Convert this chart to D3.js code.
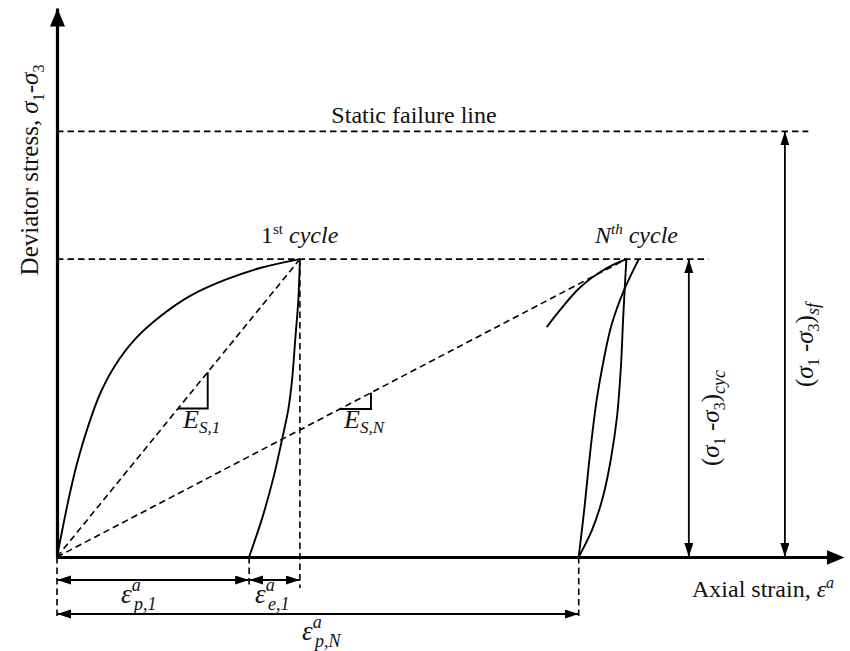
<!DOCTYPE html>
<html>
<head>
<meta charset="utf-8">
<script src="https://cdn.jsdelivr.net/npm/d3@7"></script>
<style>
  body { margin: 0; background: #fff; }
</style>
</head>
<body>
<div id="chart"></div>
<script>
// strain in arbitrary units, stress in % of the static failure stress
var load1Strain = [0, 0.08, 0.17, 0.27, 0.40, 0.55, 0.74, 1.00, 1.32, 1.70, 2.15, 2.60, 3.11];
var load1Stress = [0, 7.5, 15.4, 22.9, 30.8, 38.3, 44.9, 51.2, 56.5, 61.3, 65.1, 67.9, 70];

var unload1Strain = [3.11, 3.09, 3.05, 3.01, 2.96, 2.88, 2.78, 2.64, 2.46];
var unload1Stress = [70, 60.4, 51, 41.6, 34.5, 27.5, 19.3, 9.9, 0];

var loadNStrain = [6.27, 6.44, 6.70, 7.04, 7.29];
var loadNStress = [54, 58, 63.4, 67.9, 70];

var reloadNStrain = [6.68, 6.75, 6.83, 6.91, 7.00, 7.10, 7.26, 7.45];
var reloadNStress = [0, 11, 25.1, 36.9, 46.3, 54.5, 62.7, 70];

var unloadNStrain = [7.29, 7.25, 7.22, 7.17, 7.09, 6.99, 6.85, 6.68];
var unloadNStress = [70, 56.4, 44.6, 32.9, 22.8, 14.1, 6.3, 0];

var staticFailure = 100;   // (s1-s3)sf
var cyclicPeak = 70;       // (s1-s3)cyc
var peak1Strain = 3.11;    // end of 1st cycle
var plastic1Strain = 2.46; // eps p,1
var peakNStrain = 7.29;    // end of Nth cycle
var plasticNStrain = 6.68; // eps p,N
var staticLineEnd = 9.62;
var cyclicLineEnd = 8.34;
var cycArrowStrain = 8.09;
var sfArrowStrain = 9.32;
var slope1Tri = [1.55, 1.93];
var slopeNTri = [3.62, 4.02];

var W = 850, H = 651;
var SERIF = "'Liberation Serif', 'Times New Roman', Times, 'DejaVu Serif', serif";

var x = d3.scaleLinear().domain([0, 10]).range([57, 838]);
var y = d3.scaleLinear().domain([0, 129]).range([557, 8]);

var svg = d3.select("#chart").append("svg")
    .attr("width", W)
    .attr("height", H);

var defs = svg.append("defs");
function marker(id, len, half, ref) {
    defs.append("marker")
        .attr("id", id)
        .attr("markerUnits", "userSpaceOnUse")
        .attr("markerWidth", len + 1).attr("markerHeight", half * 2 + 1)
        .attr("refX", ref).attr("refY", half)
        .attr("orient", "auto-start-reverse")
        .append("path")
        .attr("d", "M0,0 L" + len + "," + half + " L0," + (half * 2) + " Z")
        .attr("fill", "#000");
}
marker("bigy", 18, 7.5, 18);
marker("bigx", 18, 7.5, 12);
marker("small", 14, 4.5, 14);

function zip(a, b) {
    return a.map(function (d, i) { return [d, b[i]]; });
}

var line = d3.line()
    .x(function (d) { return x(d[0]); })
    .y(function (d) { return y(d[1]); })
    .curve(d3.curveCatmullRom.alpha(0.5));

function dashed(x1, y1, x2, y2) {
    svg.append("line")
        .attr("x1", x1).attr("y1", y1).attr("x2", x2).attr("y2", y2)
        .attr("stroke", "#000")
        .attr("stroke-width", 1.6)
        .attr("stroke-dasharray", "6.5,4");
}

function arrow(x1, y1, x2, y2) {
    svg.append("line")
        .attr("x1", x1).attr("y1", y1).attr("x2", x2).attr("y2", y2)
        .attr("stroke", "#000")
        .attr("stroke-width", 1.8)
        .attr("marker-start", "url(#small)")
        .attr("marker-end", "url(#small)");
}

// dashed guide lines
dashed(x(0), y(staticFailure), x(staticLineEnd), y(staticFailure));
dashed(x(0), y(cyclicPeak), x(cyclicLineEnd), y(cyclicPeak));
dashed(x(0), y(0), x(peak1Strain), y(cyclicPeak));
dashed(x(0), y(0), x(peakNStrain), y(cyclicPeak));
dashed(x(peak1Strain), y(cyclicPeak), x(peak1Strain), y(0) + 31);
dashed(x(0), y(0), x(0), y(0) + 63);
dashed(x(plastic1Strain), y(0), x(plastic1Strain), y(0) + 31);
dashed(x(plasticNStrain), y(0), x(plasticNStrain), y(0) + 63);

// stress-strain curves
[
    zip(load1Strain, load1Stress),
    zip(unload1Strain, unload1Stress),
    zip(loadNStrain, loadNStress),
    zip(reloadNStrain, reloadNStress),
    zip(unloadNStrain, unloadNStress)
].forEach(function (pts) {
    svg.append("path")
        .attr("d", line(pts))
        .attr("fill", "none")
        .attr("stroke", "#000")
        .attr("stroke-width", 1.9);
});

// slope triangles on the secant lines
function slopeTri(xs, peakStrain) {
    var k = cyclicPeak / peakStrain;
    svg.append("path")
        .attr("d", "M" + x(xs[0]) + "," + y(k * xs[0]) +
            "H" + x(xs[1]) + "V" + y(k * xs[1]))
        .attr("fill", "none")
        .attr("stroke", "#000")
        .attr("stroke-width", 1.9);
}
slopeTri(slope1Tri, peak1Strain);
slopeTri(slopeNTri, peakNStrain);

// axes (no ticks), arrows at the ends
var xAxis = d3.axisBottom(x).tickValues([]).tickSizeOuter(0);
var yAxis = d3.axisLeft(y).tickValues([]).tickSizeOuter(0);

svg.append("g")
    .attr("class", "x-axis axis")
    .attr("transform", "translate(0," + y(0) + ")")
    .call(xAxis)
    .select(".domain").attr("marker-end", "url(#bigx)");
svg.append("g")
    .attr("class", "y-axis axis")
    .attr("transform", "translate(" + x(0) + ",0)")
    .call(yAxis)
    .select(".domain").attr("marker-end", "url(#bigy)");
svg.selectAll(".axis .domain")
    .attr("stroke", "#000")
    .attr("stroke-width", 3.2);

// dimension arrows
arrow(x(cycArrowStrain), y(0), x(cycArrowStrain), y(cyclicPeak));
arrow(x(sfArrowStrain), y(0), x(sfArrowStrain), y(staticFailure));
arrow(x(0), y(0) + 23, x(plastic1Strain), y(0) + 23);
arrow(x(plastic1Strain), y(0) + 23, x(peak1Strain), y(0) + 23);
arrow(x(0), y(0) + 57, x(plasticNStrain), y(0) + 57);

// text helpers
function addText(px, py, parts, opts) {
    opts = opts || {};
    var t = svg.append("text")
        .attr("x", px).attr("y", py)
        .attr("font-family", SERIF)
        .attr("fill", "#111")
        .attr("font-size", opts.size || 24)
        .attr("text-anchor", opts.anchor || "start");
    if (opts.rotate) t.attr("transform", "rotate(" + opts.rotate + "," + px + "," + py + ")");
    parts.forEach(function (p) {
        var s = t.append("tspan").text(p.t);
        if (p.i) s.attr("font-style", "italic");
        if (p.x != null) s.attr("x", p.x);
        if (p.dy) s.attr("dy", p.dy);
        if (p.size) s.attr("font-size", p.size);
    });
    return t;
}

// epsilon with stacked superscript a and subscript
function epsLabel(px, py, sub) {
    addText(px, py, [
        {t: "\u03b5", i: true, size: 27},
        {t: "a", i: true, size: 18, dy: -12},
        {t: sub, i: true, size: 18, x: px + 13, dy: 19}
    ]);
}

addText(414, 123, [{t: "Static failure line"}], {anchor: "middle"});

addText(261, 243, [
    {t: "1"},
    {t: "st", size: 15, dy: -9},
    {t: " cycle", i: true, dy: 9}
]);
addText(595, 243, [
    {t: "N", i: true},
    {t: "th", i: true, size: 15, dy: -9},
    {t: " cycle", i: true, dy: 9}
]);

addText(38, 170, [
    {t: "Deviator stress, "},
    {t: "\u03c3", i: true},
    {t: "1", size: 16, dy: 6},
    {t: "-", dy: -6},
    {t: "\u03c3", i: true},
    {t: "3", size: 16, dy: 6}
], {anchor: "middle", rotate: -90, size: 25});

addText(719, 418, [
    {t: "("},
    {t: "\u03c3", i: true},
    {t: "1", size: 16, dy: 6},
    {t: " -", dy: -6},
    {t: "\u03c3", i: true},
    {t: "3", size: 16, dy: 6},
    {t: ")", dy: -6},
    {t: "cyc", i: true, size: 18, dy: 6}
], {anchor: "middle", rotate: -90, size: 25});

addText(813, 345, [
    {t: "("},
    {t: "\u03c3", i: true},
    {t: "1", size: 16, dy: 6},
    {t: " -", dy: -6},
    {t: "\u03c3", i: true},
    {t: "3", size: 16, dy: 6},
    {t: ")", dy: -6},
    {t: "sf", i: true, size: 18, dy: 6}
], {anchor: "middle", rotate: -90, size: 25});

addText(692, 597, [
    {t: "Axial strain, "},
    {t: "\u03b5", i: true},
    {t: "a", i: true, size: 16, dy: -9}
]);

addText(183, 428, [
    {t: "E", i: true, size: 26},
    {t: "S,1", i: true, size: 17, dy: 5}
]);
addText(344, 428, [
    {t: "E", i: true, size: 26},
    {t: "S,N", i: true, size: 17, dy: 5}
]);

epsLabel(121, 603, "p,1");
epsLabel(255, 603, "e,1");
epsLabel(302, 640, "p,N");
</script>
</body>
</html>
